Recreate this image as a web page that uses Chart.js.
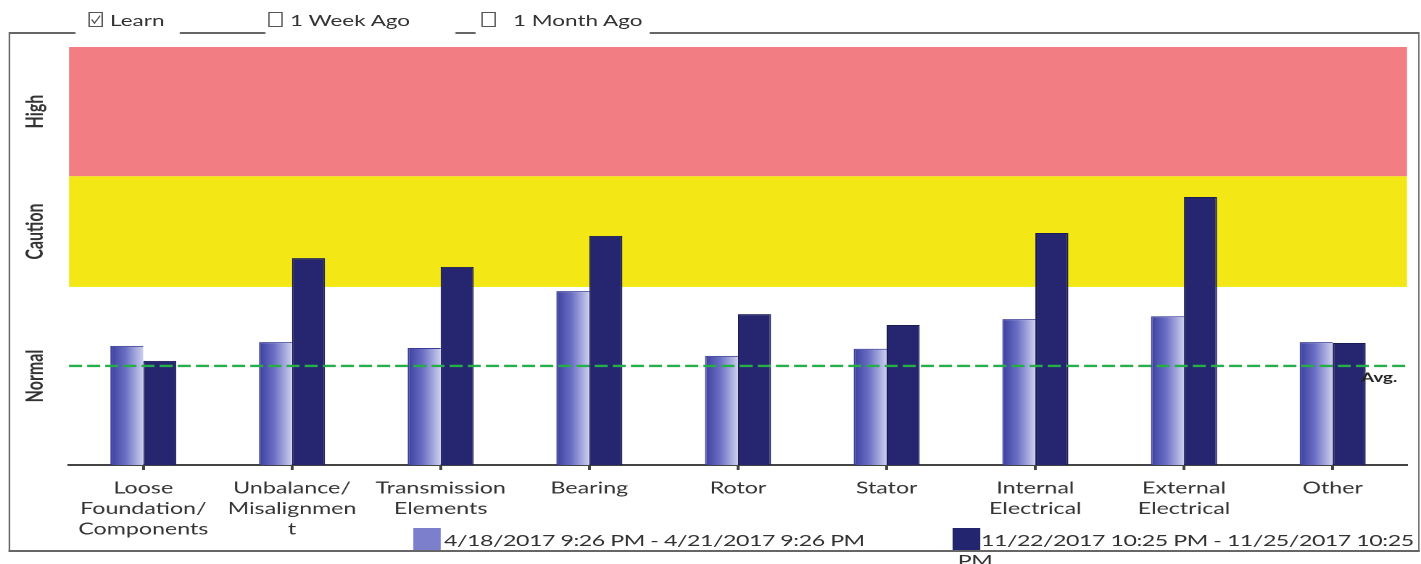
<!DOCTYPE html>
<html><head><meta charset="utf-8">
<script src="https://cdn.jsdelivr.net/npm/chart.js@4.4.1/dist/chart.umd.min.js"></script>
<style>
html,body{margin:0;padding:0;background:#fff;overflow:hidden;width:1421px;height:564px;}
#stage{position:absolute;left:0;top:0;width:980px;height:564px;transform:scaleX(1.45);transform-origin:0 0;font-family:Lato,"Open Sans",sans-serif;color:#333;}
#chart{position:absolute;left:0;top:0;}
.seg{position:absolute;background:#666;}
.cb{position:absolute;top:12px;width:10px;height:15px;box-sizing:border-box;border:1.7px solid #555;border-left-width:1.2px;border-right-width:1.2px;background:#fff;}
.cbt{position:absolute;top:9px;font-size:15.5px;line-height:22px;color:#333;white-space:nowrap;}
.lgbox{position:absolute;top:528px;width:19.3px;height:22px;}
.lgtxt{position:absolute;top:530px;font-size:16px;line-height:20px;color:#333;white-space:nowrap;letter-spacing:-0.32px;}
</style></head>
<body>
<div id="stage">
  <canvas id="chart" width="980" height="564"></canvas>
  <!-- frame -->
  <div class="seg" style="left:5.5px;top:32px;width:1.4px;height:520px"></div>
  <div class="seg" style="left:5.5px;top:550px;width:973px;height:2px"></div>
  <div class="seg" style="left:977.8px;top:32px;width:1.4px;height:520px"></div>
  <div class="seg" style="left:5.5px;top:32px;width:46.2px;height:2px"></div>
  <div class="seg" style="left:124.1px;top:32px;width:58.7px;height:2px"></div>
  <div class="seg" style="left:313.8px;top:32px;width:13.8px;height:2px"></div>
  <div class="seg" style="left:448.3px;top:32px;width:530px;height:2px"></div>
  <div id="hdr"></div>
  <div id="legend"></div>
</div>
<script>
// ---- data ----
const categories = [
  ['Loose','Foundation/','Components'],
  ['Unbalance/','Misalignmen','t'],
  ['Transmission','Elements'],
  'Bearing','Rotor','Stator',
  ['Internal','Electrical'],
  ['External','Electrical'],
  'Other'
];
const seriesLabels = ['4/18/2017 9:26 PM - 4/21/2017 9:26 PM', '11/22/2017 10:25 PM - 11/25/2017 10:25 PM'];
const seriesA = [28.5, 29.4, 28.0, 41.6, 26.1, 27.8, 34.9, 35.6, 29.4];
const seriesB = [24.9, 49.5, 47.4, 54.8, 36.1, 33.5, 55.5, 64.1, 29.2];
const avgValue = 23.7;
const bandLabels = ['Normal','Caution','High'];
const bandLimits = [0, 42.6, 69.1, 100];
const headerItems = [
  {label:'Learn', checked:true},
  {label:'1 Week Ago', checked:false},
  {label:'1 Month Ago', checked:false}
];

// ---- header (HTML) ----
const S = 1.45;
const hdrPos = [[88,110],[268,290],[481,513]];
const hdr = document.getElementById('hdr');
headerItems.forEach((it,i)=>{
  const b = document.createElement('div'); b.className='cb'; b.style.left=(hdrPos[i][0]/S)+'px';
  if(it.checked){
    b.innerHTML='<svg width="100%" height="100%" viewBox="0 0 10 10" preserveAspectRatio="none" style="position:absolute;left:0;top:0"><polyline points="1.5,5 4,7.8 8.8,2" fill="none" stroke="#555" stroke-width="1.1"/></svg>';
  }
  hdr.appendChild(b);
  const t = document.createElement('div'); t.className='cbt'; t.style.left=(hdrPos[i][1]/S)+'px'; t.textContent=it.label;
  hdr.appendChild(t);
});

// ---- legend (HTML) ----
const lgColors = ['#7b7fcc','#23256e'];
const lgPos = [[413,444,false],[952,981,true]];
const lg = document.getElementById('legend');
seriesLabels.forEach((s,i)=>{
  const b=document.createElement('div'); b.className='lgbox'; b.style.left=(lgPos[i][0]/S)+'px'; b.style.background=lgColors[i];
  lg.appendChild(b);
  const t=document.createElement('div'); t.className='lgtxt'; t.style.left=(lgPos[i][1]/S)+'px';
  if(lgPos[i][2]){
    const k = s.lastIndexOf(' ');
    const l1 = document.createElement('span'); l1.textContent = s.slice(0,k)+' ';
    const l2 = document.createElement('span'); l2.textContent = s.slice(k+1);
    l2.style.display='block'; l2.style.marginLeft='-16px';
    t.appendChild(l1); t.appendChild(l2);
  } else { t.textContent=s; }
  lg.appendChild(t);
});

// ---- chart ----
const catPct = 0.444;
const bandPlugin = {
  id:'bands',
  beforeDatasetsDraw(chart){
    const {ctx, chartArea:a, scales:{y}} = chart;
    ctx.save();
    ctx.fillStyle = '#f3e816';
    ctx.fillRect(a.left, y.getPixelForValue(bandLimits[2]), a.right-a.left, y.getPixelForValue(bandLimits[1])-y.getPixelForValue(bandLimits[2]));
    ctx.fillStyle = '#f27d82';
    ctx.fillRect(a.left, y.getPixelForValue(bandLimits[3]), a.right-a.left, y.getPixelForValue(bandLimits[2])-y.getPixelForValue(bandLimits[3]));
    ctx.fillStyle = '#333';
    ctx.font = 'bold 16px Lato, "Open Sans", sans-serif';
    ctx.textAlign='center'; ctx.textBaseline='middle';
    bandLabels.forEach((lab,i)=>{
      const yc = (y.getPixelForValue(bandLimits[i])+y.getPixelForValue(bandLimits[i+1]))/2;
      ctx.save(); ctx.translate(35/S, yc); ctx.rotate(-Math.PI/2); ctx.fillText(lab,0,0); ctx.restore();
    });
    ctx.restore();
  },
  afterDatasetsDraw(chart){
    const {ctx, chartArea:a, scales:{y}} = chart;
    const yy = y.getPixelForValue(avgValue);
    ctx.save();
    ctx.strokeStyle = '#27ad4a'; ctx.lineWidth = 2.4; ctx.setLineDash([9,3.5]);
    ctx.beginPath(); ctx.moveTo(a.left, yy); ctx.lineTo(a.right, yy); ctx.stroke();
    ctx.setLineDash([]);
    ctx.fillStyle = '#222'; ctx.font = 'bold 13px Lato, "Open Sans", sans-serif';
    ctx.textAlign='left'; ctx.textBaseline='middle';
    ctx.fillText('Avg.', 1361/S, yy+12);
    ctx.restore();
  }
};

function lightGradient(c){
  if(c.type!=='data') return '#6d71c6';
  const chart=c.chart, xs=chart.scales.x, a=chart.chartArea;
  if(!xs || !a) return '#6d71c6';
  const cx = xs.getPixelForValue(c.dataIndex);
  const w = (a.right-a.left)/categories.length*catPct/2;
  const g = chart.ctx.createLinearGradient(cx-w,0,cx,0);
  g.addColorStop(0,'#3c409e'); g.addColorStop(0.45,'#6a6ec4'); g.addColorStop(1,'#cdd0ee');
  return g;
}

new Chart(document.getElementById('chart'), {
  type:'bar',
  data:{
    labels: categories,
    datasets:[
      {label:seriesLabels[0], data:seriesA, backgroundColor:lightGradient, borderColor:'#3a3d96', borderWidth:{top:1,left:1,right:0,bottom:0}, categoryPercentage:catPct, barPercentage:1},
      {label:seriesLabels[1], data:seriesB, backgroundColor:'#25266f', borderColor:'#1a1b55', borderWidth:1, categoryPercentage:catPct, barPercentage:1}
    ]
  },
  options:{
    responsive:false, animation:false, devicePixelRatio:2,
    layout:{padding:{left:69/S, right:980-1407/S, top:47, bottom:0}},
    plugins:{legend:{display:false}, tooltip:{enabled:false}},
    scales:{
      y:{display:false, min:bandLimits[0], max:bandLimits[3]},
      x:{
        afterFit(s){ s.height = 99; },
        grid:{display:true, drawOnChartArea:false, drawTicks:true, tickLength:5, tickWidth:2, color:'#444', offset:false},
        border:{display:true, color:'#444', width:2},
        ticks:{color:'#333', font:{family:'Lato, "Open Sans", sans-serif', size:16, lineHeight:1.28}, padding:8, maxRotation:0, autoSkip:false}
      }
    }
  },
  plugins:[bandPlugin]
});
</script>
</body></html>
